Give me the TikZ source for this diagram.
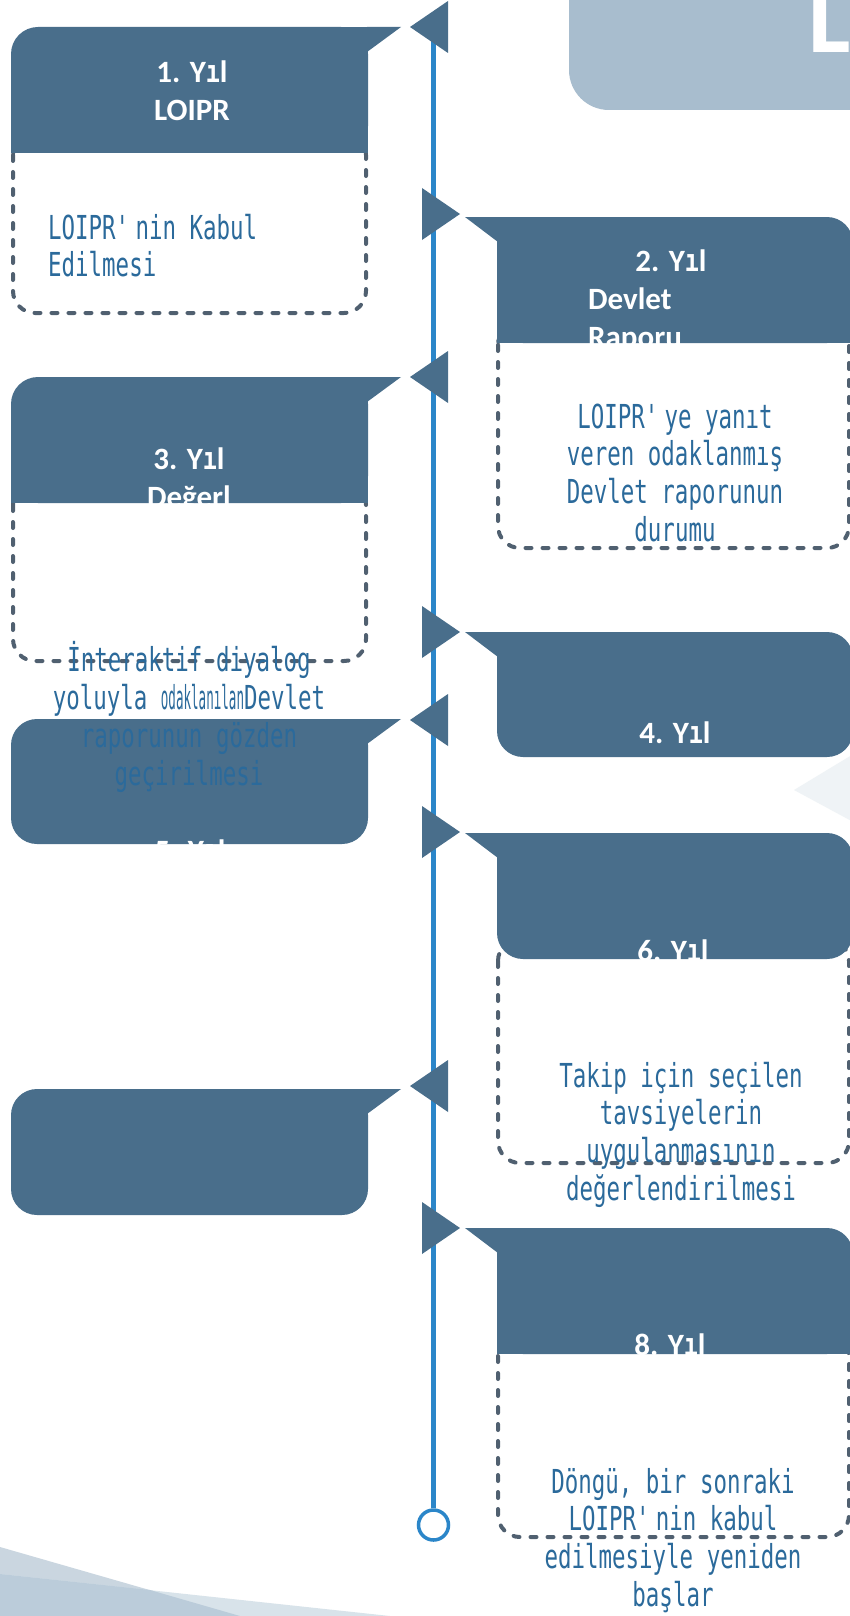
\documentclass[tikz,border=0pt]{standalone}
\usepackage{fontspec}
\usepackage{graphicx}
\newfontfamily\hdrfont{Carlito}
\newfontfamily\hdrmono[FakeStretch=0.75]{DejaVu Sans Mono}
\newfontfamily\bodyfont[FakeStretch=0.68]{DejaVu Sans Mono}
\newcommand\yil{Y{\hdrmono\bfseries ı}l}
\definecolor{hdr}{HTML}{496E8B}
\definecolor{tlc}{HTML}{2B86C9}
\definecolor{dashc}{HTML}{506070}
\definecolor{bodyc}{HTML}{2B6A9B}
\definecolor{boxlt}{HTML}{A8BDCE}
\definecolor{bgA}{HTML}{CAD6E0}
\definecolor{bgB}{HTML}{D8E3EA}
\definecolor{bgAB}{HTML}{BBCCDA}
\definecolor{faint}{HTML}{EFF3F6}
\tikzset{
  bodybox/.style={draw=dashc, line width=4pt, dash pattern=on 6pt off 11pt, line cap=round, rounded corners=22pt},
  hdrtext/.style={text=white, font={\hdrfont\bfseries\fontsize{31}{38}\selectfont}, inner sep=0pt, align=center, anchor=north},
  bodytext/.style={text=bodyc, font={\bodyfont\fontsize{33}{37.7}\selectfont}, inner sep=0pt, align=center, anchor=north},
  tline/.style={draw=tlc, line width=5pt},
  tend/.style={circle, draw=tlc, line width=3.5pt, fill=white, minimum size=30pt, inner sep=0pt},
}
\newcommand\leftheadsq[2]{%
  \fill[hdr,rounded corners=27pt] (11,#1) rectangle (368,#2);
  \fill[hdr] (11,#1+40) rectangle (368,#2);
  \fill[hdr] (320,#1) rectangle (368,#1+40);
  \fill[hdr] (367,#1) -- (401,#1) -- (367,#1+25) -- cycle;}
\newcommand\leftheadrd[2]{%
  \fill[hdr,rounded corners=26pt] (11,#1) rectangle (368,#2);
  \fill[hdr] (320,#1) rectangle (368,#1+40);
  \fill[hdr] (367,#1) -- (401,#1) -- (367,#1+25) -- cycle;}
\newcommand\rightheadsq[2]{%
  \fill[hdr,rounded corners=26pt] (497,#1) rectangle (853,#2);
  \fill[hdr] (497,#1+40) rectangle (853,#2);
  \fill[hdr] (497,#1) rectangle (545,#1+40);
  \fill[hdr] (498,#1) -- (465,#1) -- (498,#1+25) -- cycle;}
\newcommand\rightheadrd[2]{%
  \fill[hdr,rounded corners=26pt] (497,#1) rectangle (853,#2);
  \fill[hdr] (497,#1) rectangle (545,#1+40);
  \fill[hdr] (498,#1) -- (465,#1) -- (498,#1+25) -- cycle;}
\newcommand\ltri[1]{\fill[hdr] (410,#1) -- (448,#1-26) -- (448,#1+26) -- cycle;}
\newcommand\rtri[1]{\fill[hdr] (460,#1) -- (422,#1-26) -- (422,#1+26) -- cycle;}
\begin{document}
\begin{tikzpicture}[x=1pt,y=-1pt]
\useasboundingbox (0,0) rectangle (849,1616);
\fill[white] (0,0) rectangle (849,1616);
% background decorations
\fill[boxlt, rounded corners=40pt] (569,-60) rectangle (900,110);
\node[anchor=base west, inner sep=0pt, text=white, font={\hdrfont\bfseries\fontsize{100}{100}\selectfont}] (title) at (808,53) {L};
\fill[faint] (794,790) -- (870,744) -- (870,831) -- cycle;
\fill[bgA] (0,1547) -- (240,1616) -- (0,1616) -- cycle;
\fill[bgB] (0,1574) -- (390,1616) -- (0,1616) -- cycle;
\fill[bgAB] (0,1574) -- (150,1590) -- (240,1616) -- (0,1616) -- cycle;
% timeline
\coordinate (tltop) at (433.5,35);
\node[tend] (tlend) at (433.5,1525) {};
\draw[tline] (tltop) -- (tlend);
% dashed bodies
\draw[bodybox] (13,133) rectangle (366,313);
\draw[bodybox] (498,323) rectangle (849,548);
\draw[bodybox] (13,483) rectangle (366,661);
\draw[bodybox] (498,939) rectangle (849,1163);
\draw[bodybox] (498,1334) rectangle (849,1537);
% headers
\leftheadsq{27}{153}
\rightheadsq{217}{343}
\leftheadsq{377}{503}
\rightheadrd{632}{757}
\leftheadrd{719}{844}
\rightheadrd{833}{959}
\leftheadrd{1089}{1215}
\rightheadsq{1228}{1354}
% markers on the timeline
\ltri{27}
\rtri{214}
\ltri{377}
\rtri{632}
\ltri{720}
\rtri{832}
\ltri{1086}
\rtri{1228}
% header texts
\node[hdrtext] (h1) at (192,55.4) {\strut 1. \yil\\\strut LOIPR};
\node[hdrtext] (h2a) at (671,244.4) {\strut 2. \yil};
\node[hdrtext, align=left, anchor=north west] (h2b) at (588,282.4) {\strut Devlet\\\strut Raporu};
\node[hdrtext] (h3) at (189,442.4) {\strut 3. \yil\\\strut Değerl};
\node[hdrtext] (h4) at (675,716.4) {\strut 4. \yil};
\node[hdrtext] (h5) at (190,834.4) {\strut 5. \yil};
\node[hdrtext] (h6) at (673,934.4) {\strut 6. \yil};
\node[hdrtext] (h8) at (670,1328.4) {\strut 8. \yil};
% body texts
\node[bodytext, align=left, anchor=north west] (b1) at (48,212.6) {\strut LOIPR\textquotesingle nin Kabul\\\strut Edilmesi};
\node[bodytext] (b2) at (675,401.6) {\strut LOIPR\textquotesingle ye yanıt\\\strut veren odaklanmış\\\strut Devlet raporunun\\\strut durumu};
\node[bodytext] (b3) at (189,641.6) {\strut İnteraktif diyalog\\\strut yoluyla \scalebox{0.56}[1]{odaklanılan}Devlet\\\strut raporunun gözden\\\strut geçirilmesi};
\node[bodytext] (b6) at (681,1060.6) {\strut Takip için seçilen\\\strut tavsiyelerin\\\strut uygulanmasının\\\strut değerlendirilmesi};
\node[bodytext] (b8) at (673,1466.6) {\strut Döngü, bir sonraki\\\strut LOIPR\textquotesingle nin kabul\\\strut edilmesiyle yeniden\\\strut başlar};
\end{tikzpicture}
\end{document}
